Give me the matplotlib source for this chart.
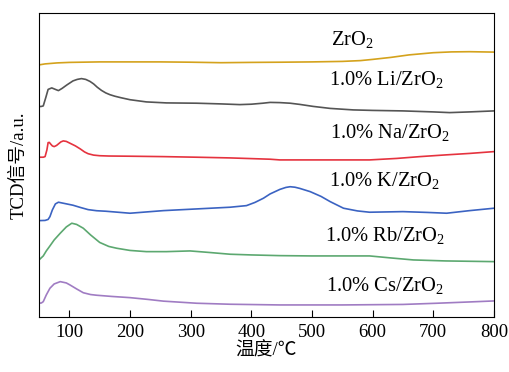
import numpy as np
import matplotlib
matplotlib.use("Agg")
import matplotlib.pyplot as plt

plt.rcParams['font.family'] = ['Liberation Serif', 'Noto Sans CJK SC']
plt.rcParams['mathtext.fontset'] = 'custom'
plt.rcParams['mathtext.rm'] = 'Liberation Serif'
plt.rcParams['mathtext.it'] = 'Liberation Serif:italic'

# curves (signal in arbitrary units, already offset)
t_zr = [50, 60, 80, 100, 150, 200, 250, 300, 350, 400, 450, 500, 550, 580, 600, 630, 660, 700, 730, 760, 800]
s_zr = [252, 253, 254, 254.5, 255, 255, 255, 254.7, 254.2, 254.5, 254.7, 255, 255.5, 256.3, 257.5, 259.5, 262, 264.2,
        265, 265.2, 264.8]

t_li = [50, 54, 57, 61, 65, 71, 77, 82, 88, 96, 106, 113, 120, 127, 134, 140, 146, 153, 160, 167, 175, 185, 200, 227,
        260, 310, 350, 381, 400, 419, 431, 447, 464, 480, 502, 530, 568, 600, 650, 700, 727, 760, 800]
y_li = [106.7, 106.5, 106, 98, 89.5, 88, 89.5, 90.7, 88.5, 85, 81, 79.5, 78.7, 79.5, 81.5, 84, 87.3, 90.5, 93, 94.8,
        96.3, 97.8, 99.8, 102, 103, 103.3, 104, 104.7, 104.3, 103.3, 102.5, 102.7, 103.3, 104.5, 106.5, 108.5, 110,
        110.5, 111, 112, 112.7, 112, 111]

t_na = [50, 57, 60, 63, 65, 67, 69, 72, 75, 79, 82, 86, 90, 95, 101, 110, 118, 125, 131, 140, 150, 165, 200, 255,
        310, 365, 431, 447, 500, 595, 640, 678, 720, 760, 800]
y_na = [157.3, 157.3, 156.7, 150, 142.7, 142.5, 144, 146, 146.7, 145.5, 144, 142, 141, 141.5, 143.3, 146, 149, 152,
        153.8, 155.2, 155.8, 156.1, 156.3, 156.7, 157.3, 158, 159.3, 160, 160, 160, 158.5, 156.7, 155, 153.5, 151.7]

t_k = [50, 60, 65, 68, 72, 77, 82, 90, 98, 106, 118, 131, 145, 160, 200, 255, 310, 365, 392, 406, 420, 431, 447, 457,
       464, 472, 480, 497, 515, 530, 552, 575, 595, 650, 690, 722, 760, 800]
y_k = [220.7, 220.5, 219.5, 216.7, 210, 204, 202.3, 203.3, 204.3, 205.3, 207.5, 209.7, 210.8, 211.3, 213.3, 210.7,
       209, 207.3, 205.7, 202.5, 198.3, 194, 189.5, 187.5, 186.8, 187.3, 188.5, 191.7, 196.5, 201.7, 208.3, 211,
       212.3, 211.7, 212.5, 213.3, 210.7, 208.3]

t_rb = [50, 57, 62, 68, 75, 85, 95, 104, 112, 123, 135, 150, 165, 178, 200, 227, 260, 299, 330, 365, 400, 447, 500,
        595, 630, 667, 720, 800]
y_rb = [260, 256, 251, 246, 240, 233.3, 227, 223.3, 224.5, 228.3, 235, 242.5, 246.5, 248.3, 250.5, 251.7, 251.7,
        251, 252.5, 254.3, 255, 255.7, 256, 256, 258, 260, 261, 261.7]

t_cs = [50, 54, 57, 62, 68, 75, 85, 95, 101, 112, 123, 135, 145, 170, 200, 230, 255, 310, 365, 447, 550, 650, 706,
        760, 800]
y_cs = [303.3, 303, 301.7, 295, 288.3, 284, 281.7, 283, 285, 289, 292.8, 294.6, 295.3, 296.5, 297.7, 299.5, 301.2,
        303.3, 304.3, 305, 305, 304.5, 303.3, 302, 301]

# the lower five were read as distances from the top, flip them
base = 317
s_li = [base - v for v in y_li]
s_na = [base - v for v in y_na]
s_k = [base - v for v in y_k]
s_rb = [base - v for v in y_rb]
s_cs = [base - v for v in y_cs]

labels = [r'ZrO$_2$', r'1.0% Li/ZrO$_2$', r'1.0% Na/ZrO$_2$', r'1.0% K/ZrO$_2$', r'1.0% Rb/ZrO$_2$', r'1.0% Cs/ZrO$_2$']
colors = ['#d4a21c', '#555555', '#e5333f', '#3b63c2', '#5ca870', '#a07cc3']
label_x = [566, 623, 628, 620, 620, 620]
label_y = [277, 237, 184, 136, 81, 31]

fig = plt.figure(figsize=(5.1, 3.72), dpi=100)
ax = fig.add_axes([0.0765, 0.148, 0.892, 0.816])

series = [(t_zr, s_zr), (t_li, s_li), (t_na, s_na), (t_k, s_k), (t_rb, s_rb), (t_cs, s_cs)]
for (t, s), c in zip(series, colors):
    ax.plot(t, s, color=c, lw=1.2)

for lab, x, y in zip(labels, label_x, label_y):
    ax.text(x, y, lab, fontsize=14.8, ha='center', va='center')

ax.set_xlim(50, 800)
ax.set_ylim(0, 303.5)
ax.set_xticks(range(100, 801, 100))
ax.set_yticks([])
ax.tick_params(axis='x', direction='in', length=5, labelsize=13.5, pad=5)
ax.set_xlabel('温度/℃', fontsize=13.5, labelpad=1)
ax.set_ylabel('TCD信号/a.u.', fontsize=13.5, labelpad=8)

fig.savefig('out.png', dpi=100)
